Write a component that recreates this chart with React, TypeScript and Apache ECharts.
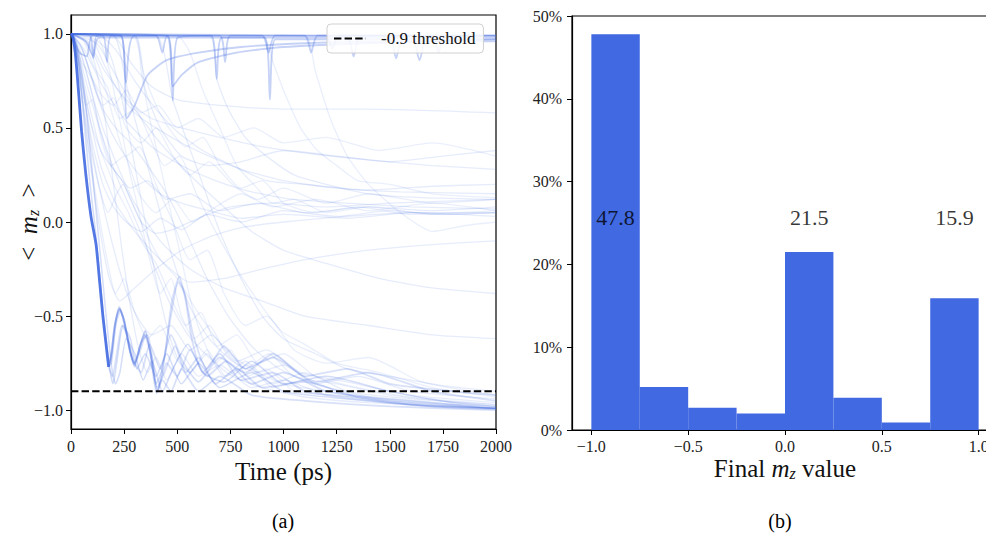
import React, { useEffect, useRef } from "react";
import * as echarts from "echarts";

// ---------- Panel (a): <m_z> trajectories ----------
const TIME_MIN = 0;
const TIME_MAX = 2000;
const TIME_STEP = 250;
const MZ_TICKS = [-1, -0.5, 0, 0.5, 1];
const THRESHOLD = -0.9;
const THRESHOLD_LABEL = "-0.9 threshold";

// common fast-switching head (t, m_z)
const FAST_HEAD: number[][] = [[0, 1], [8, 0.99], [20, 0.9], [35, 0.7], [50, 0.48], [70, 0.25], [94, 0.03], [118, -0.12], [135, -0.32], [150, -0.5], [165, -0.65], [177, -0.77]];

// oscillating tails of the fast bundle
const FAST_TAILS: number[][][] = [
  [[177, -0.77], [190, -0.7], [205, -0.56], [227, -0.45], [250, -0.52], [275, -0.67], [298, -0.76], [325, -0.66], [350, -0.58], [375, -0.7], [405, -0.9], [440, -0.72], [475, -0.42], [510, -0.29], [540, -0.42], [570, -0.63], [620, -0.8], [700, -0.7], [800, -0.84], [950, -0.8], [1100, -0.9], [1300, -0.93], [1600, -0.97], [2000, -0.99]],
  [[177, -0.77], [190, -0.7], [205, -0.55], [227, -0.46], [250, -0.53], [275, -0.68], [298, -0.75], [320, -0.68], [345, -0.6], [370, -0.68], [405, -0.88], [440, -0.8], [490, -0.66], [540, -0.8], [600, -0.72], [680, -0.86], [780, -0.78], [900, -0.88], [1100, -0.85], [1350, -0.93], [1700, -0.98], [2000, -0.995]],
  [[177, -0.77], [190, -0.72], [210, -0.55], [232, -0.47], [255, -0.55], [280, -0.7], [300, -0.77], [330, -0.64], [360, -0.6], [385, -0.74], [408, -0.9], [450, -0.75], [500, -0.82], [560, -0.68], [640, -0.82], [730, -0.74], [850, -0.86], [1000, -0.8], [1200, -0.9], [1500, -0.94], [2000, -0.99]],
  [[177, -0.77], [195, -0.82], [215, -0.7], [240, -0.55], [265, -0.6], [295, -0.74], [330, -0.8], [370, -0.65], [420, -0.78], [470, -0.6], [530, -0.75], [600, -0.85], [700, -0.72], [820, -0.8], [950, -0.7], [1100, -0.82], [1300, -0.78], [1500, -0.86], [1800, -0.9], [2000, -0.92]],
  [[177, -0.77], [190, -0.75], [212, -0.52], [230, -0.46], [258, -0.58], [298, -0.75], [330, -0.67], [350, -0.6], [380, -0.72], [400, -0.86], [430, -0.78], [470, -0.5], [505, -0.32], [535, -0.38], [575, -0.6], [640, -0.78], [720, -0.66], [820, -0.78], [950, -0.72], [1150, -0.85], [1400, -0.8], [1700, -0.9], [2000, -0.95]],
  [[177, -0.77], [190, -0.7], [205, -0.56], [227, -0.46], [250, -0.52], [275, -0.67], [298, -0.76], [322, -0.67], [348, -0.58], [372, -0.69], [403, -0.91], [430, -0.84], [470, -0.9], [520, -0.78], [600, -0.9], [700, -0.82], [850, -0.92], [1100, -0.95], [1500, -0.98], [2000, -1.0]],
];

const FAST_VARIANTS: number[][][] = [
  [[0, 1], [15, 0.98], [35, 0.85], [60, 0.55], [90, 0.2], [115, -0.05], [140, -0.35], [165, -0.62], [185, -0.8], [198, -0.86], [215, -0.75], [245, -0.55], [280, -0.62], [310, -0.78], [350, -0.7], [400, -0.82], [450, -0.7], [520, -0.86], [600, -0.75], [700, -0.88], [850, -0.8], [1000, -0.9], [1300, -0.94], [1700, -0.98], [2000, -0.99]],
  [[0, 1], [20, 0.97], [50, 0.8], [80, 0.5], [110, 0.15], [140, -0.2], [170, -0.55], [195, -0.8], [210, -0.86], [230, -0.8], [260, -0.62], [300, -0.7], [340, -0.84], [380, -0.74], [430, -0.9], [480, -0.78], [550, -0.65], [620, -0.8], [720, -0.85], [850, -0.74], [1000, -0.86], [1200, -0.82], [1500, -0.9], [1800, -0.96], [2000, -0.98]],
];

const SLOW_FALLERS: number[][][] = [
  [[0, 1], [60, 0.97], [110, 0.85], [160, 0.55], [200, 0.2], [240, -0.15], [280, -0.45], [320, -0.68], [360, -0.8], [400, -0.72], [450, -0.84], [520, -0.7], [600, -0.82], [700, -0.76], [850, -0.88], [1000, -0.84], [1200, -0.92], [1500, -0.96], [2000, -0.99]],
  [[0, 1], [100, 0.98], [180, 0.9], [240, 0.65], [300, 0.3], [350, 0.0], [400, -0.3], [450, -0.55], [500, -0.72], [560, -0.8], [640, -0.7], [720, -0.82], [820, -0.74], [950, -0.86], [1100, -0.8], [1300, -0.9], [1600, -0.94], [2000, -0.97]],
  [[0, 1], [200, 0.99], [259, 0.74], [300, 0.55], [360, 0.3], [420, 0.05], [480, -0.2], [560, -0.45], [650, -0.62], [760, -0.74], [880, -0.8], [1000, -0.76], [1150, -0.86], [1350, -0.82], [1600, -0.9], [2000, -0.94]],
  [[0, 1], [400, 0.99], [479, 0.65], [540, 0.45], [620, 0.2], [700, -0.05], [800, -0.3], [900, -0.5], [1000, -0.62], [1150, -0.7], [1300, -0.78], [1500, -0.82], [1750, -0.87], [2000, -0.9]],
  [[0, 1], [30, 0.92], [70, 0.75], [120, 0.55], [170, 0.38], [230, 0.2], [300, 0.02], [380, -0.2], [460, -0.42], [550, -0.6], [650, -0.72], [760, -0.82], [900, -0.88], [1100, -0.93], [1400, -0.96], [2000, -0.99]],
  [[0, 1], [40, 0.95], [90, 0.8], [150, 0.6], [210, 0.5], [280, 0.42], [360, 0.3], [450, 0.15], [540, -0.05], [640, -0.3], [740, -0.5], [850, -0.66], [980, -0.78], [1150, -0.86], [1400, -0.93], [1700, -0.97], [2000, -0.99]],
  [[0, 1], [25, 0.93], [55, 0.72], [90, 0.45], [130, 0.2], [180, -0.05], [240, -0.3], [300, -0.48], [380, -0.6], [470, -0.55], [560, -0.68], [660, -0.6], [780, -0.74], [920, -0.68], [1080, -0.8], [1300, -0.85], [1600, -0.92], [2000, -0.96]],
];

const MID_SETTLERS: number[][][] = [
  [[0, 1], [60, 0.92], [150, 0.72], [250, 0.55], [380, 0.4], [520, 0.3], [680, 0.22], [850, 0.16], [1050, 0.12], [1300, 0.1], [1600, 0.08], [2000, 0.07]],
  [[0, 1], [30, 0.82], [75, 0.5], [125, 0.22], [175, 0.05], [215, 0.15], [245, 0.2], [280, 0.12], [330, 0.0], [400, -0.06], [480, -0.04], [600, 0.02], [750, 0.08], [950, 0.1], [1200, 0.08], [1500, 0.1], [2000, 0.12]],
  [[0, 1], [45, 0.78], [100, 0.42], [150, 0.2], [200, 0.08], [260, 0.0], [330, -0.05], [420, 0.02], [520, -0.04], [640, 0.04], [800, 0.0], [1000, 0.06], [1250, 0.03], [1500, 0.06], [1750, 0.04], [2000, 0.05]],
  [[0, 1], [100, 0.97], [150, 0.85], [220, 0.7], [300, 0.58], [400, 0.5], [520, 0.42], [650, 0.35], [800, 0.28], [1000, 0.22], [1250, 0.18], [1550, 0.16], [2000, 0.15]],
  [[0, 1], [60, 0.9], [120, 0.68], [180, 0.5], [250, 0.36], [330, 0.24], [420, 0.15], [520, 0.1], [650, 0.06], [800, 0.02], [1000, 0.04], [1300, 0.02], [1600, 0.05], [2000, 0.03]],
  [[0, 1], [150, 0.98], [220, 0.9], [300, 0.75], [400, 0.6], [500, 0.48], [620, 0.38], [760, 0.3], [920, 0.22], [1100, 0.2], [1400, 0.17], [1700, 0.19], [2000, 0.2]],
  [[0, 1], [40, 0.85], [90, 0.6], [140, 0.38], [200, 0.28], [280, 0.18], [360, 0.22], [450, 0.12], [560, 0.15], [700, 0.06], [880, 0.1], [1100, 0.05], [1400, 0.08], [1700, 0.06], [2000, 0.08]],
  [[0, 1], [650, 0.99], [686, 0.76], [740, 0.6], [820, 0.45], [920, 0.35], [1050, 0.25], [1200, 0.2], [1400, 0.15], [1650, 0.13], [2000, 0.12]],
  [[0, 1], [35, 0.8], [80, 0.4], [130, 0.0], [180, -0.3], [230, -0.42], [300, -0.35], [400, -0.25], [520, -0.15], [650, -0.08], [800, -0.03], [1000, 0.0], [1300, 0.03], [1600, 0.05], [2000, 0.05]],
];

const WANDERERS: number[][][] = [
  [[0, 1], [50, 0.88], [120, 0.6], [200, 0.35], [300, 0.1], [420, -0.1], [560, -0.25], [720, -0.35], [900, -0.42], [1100, -0.5], [1400, -0.55], [1700, -0.6], [2000, -0.62]],
  [[0, 1], [120, 0.95], [200, 0.8], [300, 0.6], [420, 0.42], [560, 0.25], [700, 0.1], [850, -0.05], [1000, -0.15], [1200, -0.22], [1450, -0.3], [1700, -0.35], [2000, -0.38]],
  [[0, 1], [30, 0.9], [80, 0.6], [140, 0.3], [210, 0.1], [300, -0.05], [420, -0.2], [560, -0.32], [720, -0.3], [900, -0.25], [1100, -0.2], [1400, -0.15], [1700, -0.12], [2000, -0.1]],
  [[0, 1], [300, 0.99], [350, 0.7], [420, 0.5], [520, 0.35], [650, 0.3], [800, 0.32], [1000, 0.38], [1250, 0.35], [1500, 0.32], [1750, 0.35], [2000, 0.38]],
  [[0, 1], [80, 0.96], [160, 0.8], [260, 0.65], [380, 0.55], [520, 0.5], [700, 0.45], [900, 0.4], [1150, 0.36], [1400, 0.33], [1700, 0.3], [2000, 0.28]],
  [[0, 1], [200, 0.99], [280, 0.85], [380, 0.72], [500, 0.65], [700, 0.62], [1000, 0.6], [1400, 0.6], [2000, 0.58]],
];

const HAZE: number[][][] = [
  [[0, 1], [50, 0.93], [100, 0.75], [150, 0.62], [200, 0.66], [260, 0.5], [330, 0.42], [400, 0.5], [480, 0.35], [560, 0.25], [650, 0.32], [760, 0.2], [880, 0.12], [1000, 0.18], [1200, 0.1], [1400, 0.15], [1700, 0.1], [2000, 0.12]],
  [[0, 1], [80, 0.95], [140, 0.8], [200, 0.55], [260, 0.35], [320, 0.4], [400, 0.2], [480, 0.0], [560, -0.2], [640, -0.15], [720, -0.38], [820, -0.55], [920, -0.5], [1050, -0.68], [1200, -0.75], [1400, -0.72], [1650, -0.85], [2000, -0.92]],
  [[0, 1], [20, 0.95], [45, 0.75], [70, 0.62], [100, 0.65], [140, 0.45], [190, 0.3], [250, 0.35], [320, 0.15], [400, 0.05], [480, 0.12], [570, 0.0], [680, 0.08], [800, 0.15], [950, 0.08], [1150, 0.12], [1400, 0.06], [1700, 0.1], [2000, 0.06]],
  [[0, 1], [120, 0.99], [170, 0.85], [220, 0.6], [270, 0.3], [320, 0.05], [370, -0.2], [420, -0.38], [470, -0.3], [520, -0.5], [580, -0.62], [650, -0.55], [730, -0.7], [820, -0.78], [930, -0.7], [1050, -0.82], [1250, -0.86], [1500, -0.92], [2000, -0.98]],
  [[0, 1], [30, 0.88], [60, 0.7], [100, 0.5], [150, 0.35], [210, 0.18], [270, 0.05], [330, -0.1], [400, -0.22], [470, -0.4], [540, -0.55], [610, -0.48], [690, -0.66], [780, -0.6], [880, -0.75], [1000, -0.7], [1150, -0.82], [1350, -0.88], [1600, -0.93], [2000, -0.97]],
  [[0, 1], [200, 0.99], [300, 0.98], [340, 0.8], [400, 0.62], [460, 0.5], [540, 0.4], [620, 0.45], [700, 0.3], [800, 0.18], [900, 0.22], [1000, 0.1], [1150, 0.05], [1350, 0.08], [1600, 0.04], [2000, 0.06]],
  [[0, 1], [60, 0.96], [110, 0.82], [170, 0.72], [230, 0.55], [300, 0.6], [370, 0.45], [440, 0.3], [510, 0.35], [590, 0.15], [680, -0.05], [780, -0.25], [880, -0.42], [990, -0.58], [1100, -0.65], [1250, -0.75], [1450, -0.8], [1700, -0.88], [2000, -0.93]],
  [[0, 1], [15, 0.97], [40, 0.82], [65, 0.55], [95, 0.3], [130, 0.05], [170, -0.2], [210, -0.38], [250, -0.3], [300, -0.48], [360, -0.62], [420, -0.55], [490, -0.72], [560, -0.8], [640, -0.68], [730, -0.82], [830, -0.76], [950, -0.88], [1100, -0.84], [1300, -0.92], [1600, -0.95], [2000, -0.99]],
  [[0, 1], [500, 0.99], [560, 0.9], [620, 0.7], [700, 0.5], [780, 0.3], [860, 0.2], [950, 0.1], [1050, 0.12], [1200, 0.05], [1400, 0.08], [1700, 0.04], [2000, 0.05]],
  [[0, 1], [900, 0.99], [950, 0.85], [1000, 0.7], [1080, 0.5], [1160, 0.38], [1250, 0.3], [1350, 0.22], [1500, 0.2], [1700, 0.15], [2000, 0.13]],
  [[0, 1], [40, 0.92], [90, 0.72], [140, 0.48], [190, 0.3], [240, 0.22], [290, 0.1], [350, -0.05], [420, -0.2], [500, -0.3], [580, -0.45], [670, -0.6], [770, -0.72], [880, -0.8], [1000, -0.86], [1200, -0.9], [1500, -0.95], [2000, -0.98]],
  [[0, 1], [1100, 0.99], [1150, 0.8], [1220, 0.55], [1300, 0.35], [1400, 0.2], [1550, 0.05], [1700, -0.05], [1850, -0.02], [2000, 0.0]],
  [[0, 1], [25, 0.95], [50, 0.85], [90, 0.78], [140, 0.68], [200, 0.62], [260, 0.7], [330, 0.58], [410, 0.62], [500, 0.5], [600, 0.55], [720, 0.45], [860, 0.5], [1000, 0.42], [1200, 0.45], [1450, 0.38], [1700, 0.42], [2000, 0.35]],
  [[0, 1], [300, 0.99], [330, 0.8], [370, 0.55], [420, 0.3], [470, 0.05], [520, -0.2], [570, -0.45], [620, -0.62], [680, -0.75], [750, -0.68], [830, -0.82], [920, -0.78], [1050, -0.9], [1250, -0.92], [1600, -0.96], [2000, -0.99]],
];

const STAY_UP: number[][][] = [
  [[0, 1], [90, 0.99], [105, 0.87], [122, 0.99], [235, 0.99], [259, 0.74], [298, 0.99], [900, 0.99], [930, 0.9], [960, 0.99], [2000, 0.99]],
  [[0, 1], [100, 0.99], [235, 0.99], [455, 0.99], [479, 0.645], [502, 0.98], [660, 0.99], [686, 0.76], [710, 0.98], [1300, 0.98], [1330, 0.88], [1360, 0.98], [2000, 0.98]],
  [[0, 1], [70, 0.96], [105, 0.88], [130, 0.98], [910, 0.98], [936, 0.65], [962, 0.97], [1500, 0.97], [1530, 0.87], [1560, 0.97], [2000, 0.97]],
  [[0, 1], [235, 0.99], [262, 0.55], [300, 0.62], [360, 0.78], [450, 0.86], [600, 0.9], [800, 0.93], [1100, 0.95], [1500, 0.96], [2000, 0.96]],
  [[0, 1], [40, 0.9], [75, 0.88], [100, 0.99], [400, 0.99], [430, 0.9], [455, 0.99], [1100, 0.99], [1130, 0.9], [1160, 0.99], [1700, 0.99], [1730, 0.9], [1760, 0.99], [2000, 0.99]],
  [[0, 1], [450, 0.99], [478, 0.72], [520, 0.78], [600, 0.85], [780, 0.9], [1000, 0.93], [1400, 0.95], [2000, 0.97]],
  [[0, 1], [150, 0.99], [170, 0.85], [190, 0.99], [700, 0.99], [725, 0.85], [750, 0.99], [1200, 0.99], [1230, 0.92], [1260, 0.99], [1600, 0.99], [1640, 0.86], [1680, 0.99], [2000, 0.99]],
];

// ---------- Panel (b): histogram of final m_z ----------
const BIN_EDGES = [-1, -0.75, -0.5, -0.25, 0, 0.25, 0.5, 0.75, 1];
const BIN_PERCENT = [47.8, 5.2, 2.7, 2.0, 21.5, 3.9, 0.9, 15.9];
const LABELLED_BINS = [0, 4, 7];
const FINAL_TICKS = [-1, -0.5, 0, 0.5, 1];
const PCT_MAX = 50;
const PCT_STEP = 10;

const BLUE = "#4169E1";
const FONT = '"Liberation Serif", "DejaVu Serif", serif';
const LABEL_Y = 25.7;

const fmtNum = (v: number) => {
  const s = Math.abs(v).toFixed(1);
  return v < 0 ? "\u2212" + s : s;
};

function traj(data: number[][], opacity: number, width: number) {
  return {
    type: "line",
    xAxisIndex: 0,
    yAxisIndex: 0,
    data,
    symbol: "none",
    showSymbol: false,
    silent: true,
    smooth: 0.2,
    lineStyle: { color: BLUE, width, opacity },
    z: 2,
  };
}

export default function App() {
  const ref = useRef<HTMLDivElement>(null);
  useEffect(() => {
    if (!ref.current) return;
    const chart = echarts.init(ref.current, null, { renderer: "svg" });
    const axisLine = { show: true, onZero: false, lineStyle: { color: "#000", width: 1.2 } };
    const axisTick = { show: true, length: 5, lineStyle: { color: "#000", width: 1 } };
    const labelBase = { fontSize: 16, color: "#222", fontFamily: FONT };

    const series: any[] = [];
    HAZE.forEach((d) => series.push(traj(d, 0.11, 1.3)));
    [...WANDERERS, ...MID_SETTLERS, ...SLOW_FALLERS].forEach((d) => series.push(traj(d, 0.13, 1.3)));
    STAY_UP.forEach((d) => series.push(traj(d, 0.3, 1.8)));
    FAST_VARIANTS.forEach((d) => series.push(traj(d, 0.22, 1.5)));
    FAST_TAILS.forEach((d) => series.push(traj(d, 0.2, 1.8)));
    series.push(traj(FAST_HEAD, 0.9, 2.8));
    series.push({
      type: "line",
      name: THRESHOLD_LABEL,
      xAxisIndex: 0,
      yAxisIndex: 0,
      data: [[TIME_MIN, THRESHOLD], [TIME_MAX, THRESHOLD]],
      symbol: "none",
      silent: true,
      lineStyle: { color: "#000", width: 2, type: [7.4, 3.2] },
      itemStyle: { color: "#000" },
      z: 5,
    });
    series.push({
      type: "custom",
      xAxisIndex: 1,
      yAxisIndex: 1,
      silent: true,
      data: BIN_PERCENT.map((p, i) => [BIN_EDGES[i], BIN_EDGES[i + 1], p]),
      encode: { x: [0, 1], y: 2 },
      renderItem: (_params: any, api: any) => {
        const a = api.coord([api.value(0), 0]);
        const b = api.coord([api.value(1), api.value(2)]);
        return {
          type: "rect",
          shape: { x: a[0], y: b[1], width: b[0] - a[0], height: a[1] - b[1] },
          style: { fill: BLUE },
        };
      },
      z: 2,
    });
    series.push({
      type: "scatter",
      xAxisIndex: 1,
      yAxisIndex: 1,
      silent: true,
      symbolSize: 1,
      itemStyle: { color: "rgba(0,0,0,0)" },
      data: LABELLED_BINS.map((i) => [(BIN_EDGES[i] + BIN_EDGES[i + 1]) / 2, LABEL_Y, BIN_PERCENT[i]]),
      label: {
        show: true,
        position: "inside",
        formatter: (p: any) => p.value[2].toFixed(1),
        fontSize: 22,
        color: "#000",
        fontFamily: FONT,
      },
      z: 6,
    });

    const subRich = {
      r: { fontSize: 25, fontFamily: FONT, color: "#111", lineHeight: 26 },
      i: { fontSize: 25, fontFamily: FONT, fontStyle: "italic", color: "#111", lineHeight: 26 },
      s: { fontSize: 16, fontFamily: FONT, fontStyle: "italic", color: "#111", lineHeight: 14, verticalAlign: "bottom" },
    };

    chart.setOption({
      animation: false,
      backgroundColor: "#fff",
      grid: [
        { left: 71, top: 15, width: 425, height: 414, show: true, borderColor: "#000", borderWidth: 1.2, backgroundColor: "transparent", outerBoundsMode: "none", containLabel: false },
        { left: 572, top: 16, width: 426, height: 414, show: true, borderColor: "#000", borderWidth: 1.2, backgroundColor: "transparent", outerBoundsMode: "none", containLabel: false },
      ],
      legend: {
        data: [THRESHOLD_LABEL],
        left: 327,
        top: 24,
        itemWidth: 32,
        itemHeight: 14,
        padding: [6, 8, 6, 6],
        backgroundColor: "rgba(255,255,255,0.85)",
        borderColor: "#d0d0d0",
        borderWidth: 1,
        borderRadius: 4,
        itemStyle: { color: "rgba(0,0,0,0)", borderWidth: 0, opacity: 0 },
        textStyle: { fontSize: 17, fontFamily: FONT, color: "#111", padding: [0, 0, 0, 10] },
        selectedMode: false,
      },
      xAxis: [
        {
          gridIndex: 0,
          type: "value",
          min: TIME_MIN,
          max: TIME_MAX,
          interval: TIME_STEP,
          axisLine,
          axisTick,
          splitLine: { show: false },
          axisLabel: { ...labelBase, margin: 9, formatter: (v: number) => String(v) },
          name: "Time (ps)",
          nameLocation: "middle",
          nameGap: 30,
          nameMoveOverlap: false,
          nameTextStyle: { fontSize: 25, fontFamily: FONT, color: "#111" },
        },
        {
          gridIndex: 1,
          type: "value",
          min: -1.1,
          max: 1.1,
          axisLine,
          axisTick: { ...axisTick, customValues: FINAL_TICKS },
          splitLine: { show: false },
          axisLabel: { ...labelBase, margin: 8, customValues: FINAL_TICKS, formatter: (v: number) => fmtNum(v) },
          name: "{r|Final }{i|m}{s|z}{r| value}",
          nameLocation: "middle",
          nameGap: 25,
          nameMoveOverlap: false,
          nameTextStyle: { rich: subRich },
        },
      ],
      yAxis: [
        {
          gridIndex: 0,
          type: "value",
          min: -1.1,
          max: 1.1,
          axisLine,
          axisTick: { ...axisTick, customValues: MZ_TICKS },
          splitLine: { show: false },
          axisLabel: { ...labelBase, margin: 8, customValues: MZ_TICKS, formatter: (v: number) => fmtNum(v) },
          name: "{r|<  }{i|m}{s|z}{r|  >}",
          nameLocation: "middle",
          nameGap: 30,
          nameMoveOverlap: false,
          nameRotate: 90,
          nameTextStyle: { rich: subRich },
        },
        {
          gridIndex: 1,
          type: "value",
          min: 0,
          max: PCT_MAX,
          interval: PCT_STEP,
          axisLine,
          axisTick,
          splitLine: { show: false },
          axisLabel: { ...labelBase, margin: 10, formatter: "{value}%" },
        },
      ],
      graphic: [
        { type: "text", x: 283, y: 521, style: { text: "(a)", font: `20px ${FONT}`, fill: "#000", align: "center", verticalAlign: "middle", textAlign: "center", textVerticalAlign: "middle" } },
        { type: "text", x: 780, y: 521, style: { text: "(b)", font: `20px ${FONT}`, fill: "#000", align: "center", verticalAlign: "middle", textAlign: "center", textVerticalAlign: "middle" } },
      ],
      series,
    });
    return () => chart.dispose();
  }, []);
  return <div ref={ref} style={{ position: "absolute", left: 0, top: 0, width: 986, height: 534 }} />;
}
